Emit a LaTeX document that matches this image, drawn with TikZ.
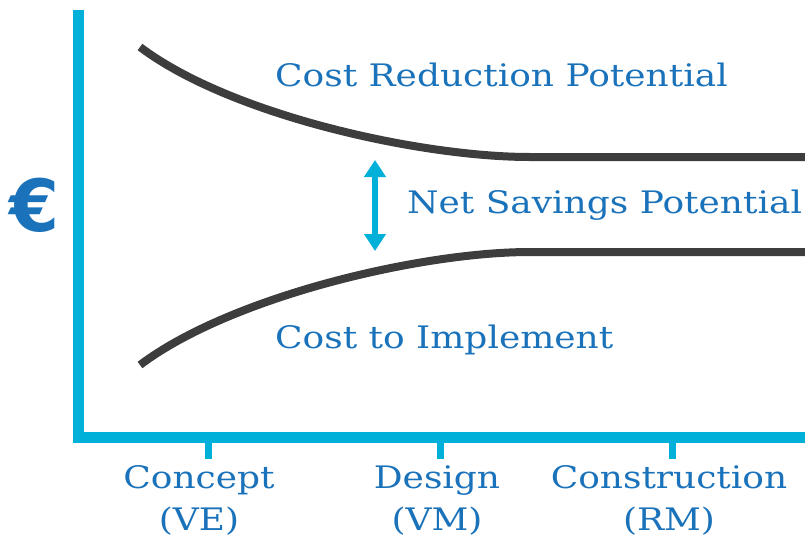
\documentclass[tikz,border=0pt]{standalone}
\usepackage{fontspec}
\setmainfont{DejaVu Serif}
\newfontfamily\eurofont{DejaVu Sans}
\usetikzlibrary{arrows.meta}
\definecolor{axiscyan}{HTML}{00B0D9}
\definecolor{labelblue}{HTML}{1A72BA}
\definecolor{curvegray}{HTML}{3D3D3D}
\newcommand{\wide}[1]{\scalebox{1.16}[1]{#1}}
\begin{document}
\begin{tikzpicture}[x=1pt,y=-1pt]
  \tikzstyle{axis}=[color=axiscyan, line width=11pt]
  \tikzstyle{tick}=[color=axiscyan, line width=7pt]
  \tikzstyle{curve}=[color=curvegray, line width=8pt]
  \tikzstyle{lbl}=[text=labelblue, font=\fontsize{31}{42}\selectfont, inner sep=0pt]
  \tikzstyle{phase}=[lbl, align=center, anchor=north]
  \useasboundingbox (0,0) rectangle (805,544);
  % axes
  \coordinate (Top) at (78,10);
  \coordinate (Origin) at (78,437);
  \coordinate (Right) at (805,437);
  \draw [axis] (Top) -- (Origin) -- (Right);
  \foreach \name/\x in {T1/208,T2/440,T3/672} {
    \coordinate (\name) at (\x,437);
    \draw [tick] (\name) -- ++(0,22);
  }
  \node (Euro) at (35,205) [text=labelblue, inner sep=0pt] {\eurofont\bfseries\fontsize{72}{76}\selectfont €};
  % curves
  \coordinate (U0) at (140,47);
  \coordinate (U1) at (530,157);
  \coordinate (U2) at (805,157);
  \coordinate (L0) at (140,365);
  \coordinate (L1) at (530,252);
  \coordinate (L2) at (805,252);
  \draw [curve] (U0) .. controls (230,115) and (420,157) .. (U1) -- (U2);
  \draw [curve] (L0) .. controls (230,297) and (420,252) .. (L1) -- (L2);
  % net savings arrow
  \coordinate (A1) at (375,160);
  \coordinate (A2) at (375,251);
  \draw [color=axiscyan, line width=6pt, {Triangle[length=17pt,width=21pt]}-{Triangle[length=17pt,width=21pt]}] (A1) -- (A2);
  % labels
  \node (CRP) at (275,75) [lbl, anchor=west] {\wide{Cost Reduction Potential}};
  \node (NSP) at (407,205) [lbl, anchor=west] {\wide{Net Savings Potential}};
  \node (CTI) at (275,340) [lbl, anchor=west] {\wide{Cost to Implement}};
  \node (P1) at (199,465) [phase] {\wide{Concept}\\\wide{(VE)}};
  \node (P2) at (437,465) [phase] {\wide{Design}\\\wide{(VM)}};
  \node (P3) at (669,465) [phase] {\wide{Construction}\\\wide{(RM)}};
\end{tikzpicture}
\end{document}
